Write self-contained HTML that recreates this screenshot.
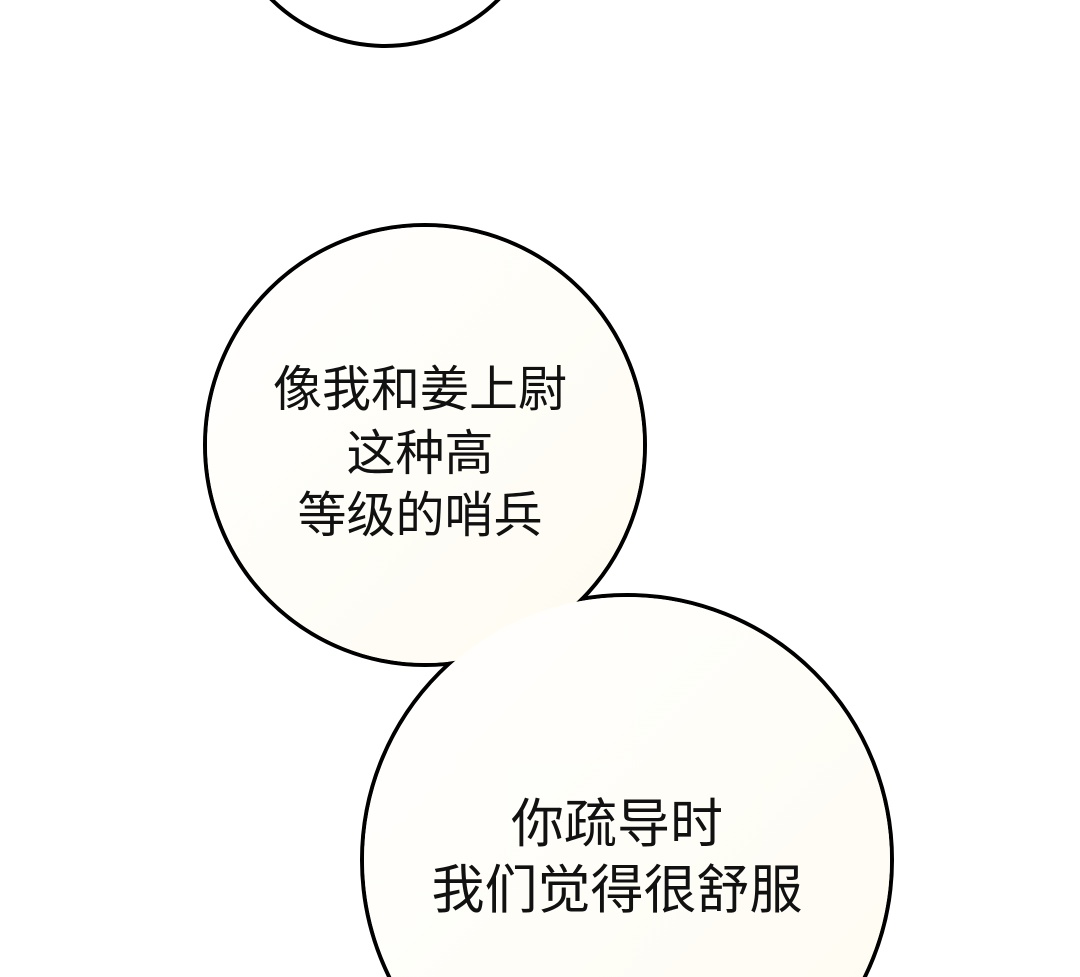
<!DOCTYPE html>
<html><head><meta charset="utf-8"><style>
html,body{margin:0;padding:0;background:#fff;width:1080px;height:977px;overflow:hidden;}
svg{display:block;}
.t{font-family:"Liberation Sans","Noto Sans CJK SC",sans-serif;fill:#111;text-anchor:middle;}
</style></head><body>
<svg width="1080" height="977" viewBox="0 0 1080 977" xmlns="http://www.w3.org/2000/svg">
<defs>
<linearGradient id="g" x1="0" y1="0" x2="1" y2="1">
<stop offset="0" stop-color="#ffffff"/><stop offset="1" stop-color="#fefbf0"/>
</linearGradient>
</defs>
<ellipse cx="385" cy="-112" rx="160" ry="158" fill="#fff" stroke="#000" stroke-width="4"/>
<circle cx="425" cy="445" r="220" fill="url(#g)" stroke="#000" stroke-width="4"/>
<circle cx="627" cy="860" r="265" fill="url(#g)" stroke="#000" stroke-width="4"/>
<circle cx="425" cy="445" r="218" fill="url(#g)"/>
<circle cx="627" cy="860" r="263" fill="url(#g)"/>
<g class="t" font-size="49">
<text x="420" y="406">像我和姜上尉</text>
<text x="420" y="470">这种高</text>
<text x="420" y="532">等级的哨兵</text>
</g>
<g class="t" font-size="53">
<text x="617" y="842">你疏导时</text>
<text x="617" y="908">我们觉得很舒服</text>
</g>
</svg>
</body></html>
